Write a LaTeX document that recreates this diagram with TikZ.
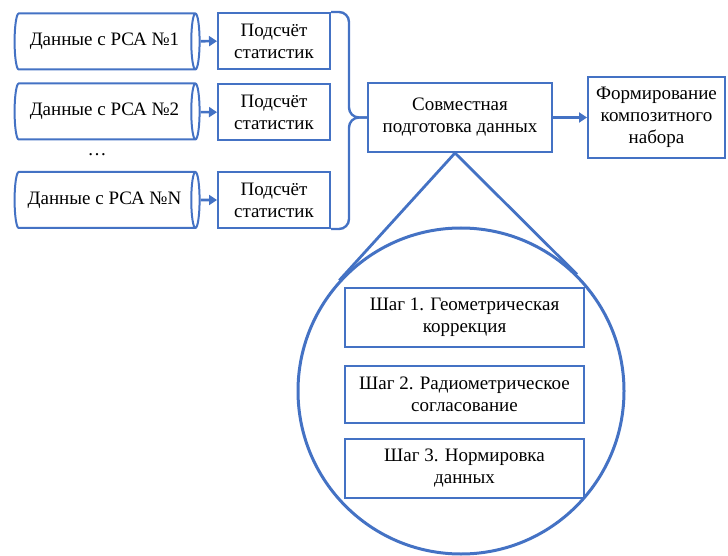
\documentclass[tikz,border=0pt]{standalone}
\usepackage{fontspec}
\setmainfont{Liberation Serif}
\newfontfamily\rusfont{Liberation Serif}
\usetikzlibrary{shapes.geometric,arrows.meta,calc,positioning}

\definecolor{lineblue}{RGB}{68,114,196}

\tikzset{
  txt/.style={font=\rusfont\fontsize{19}{22}\selectfont, align=center, text=black},
  datacyl/.style={cylinder, draw=lineblue, line width=2pt, fill=white, txt,
    minimum height=185pt, minimum width=56pt, aspect=0.5, inner sep=0pt},
  box/.style={rectangle, draw=lineblue, line width=2pt, fill=white, txt, inner sep=2pt},
  arr/.style={-{Triangle[length=8pt,width=10pt]}, draw=lineblue, line width=2.6pt},
  brace/.style={draw=lineblue, line width=2.4pt, rounded corners=10pt},
  zoomline/.style={draw=lineblue, line width=2.8pt}
}

\begin{document}
\begin{tikzpicture}[x=1pt,y=-1pt]
\useasboundingbox (0,0) rectangle (728,556);

% Input data and statistics
\node[datacyl] (d1) at (104.5,41.5) {Данные с РСА №1};
\node[datacyl] (d2) at (104.5,111.5) {Данные с РСА №2};
\node[datacyl] (d3) at (104.5,200) {Данные с РСА №N};
\node[txt] (dots) at (97,155) {\dots};

\node[box, minimum width=112pt, minimum height=56pt] (p1) at (274,41) {Подсчёт\\статистик};
\node[box, minimum width=112pt, minimum height=56pt] (p2) at (274,112.5) {Подсчёт\\статистик};
\node[box, minimum width=112pt, minimum height=56pt] (p3) at (274,200) {Подсчёт\\статистик};

\draw[arr] (d1) -- (p1);
\draw[arr] (d2) -- (p2);
\draw[arr] (d3) -- (p3);

% Joint preparation and composite
\node[box, minimum width=184pt, minimum height=69pt] (sov) at (460,117.5) {Совместная\\подготовка данных};
\node[box, minimum width=137pt, minimum height=81pt] (form) at (656.5,117.5) {Формирование\\композитного\\набора};

\draw[brace] (p1.north east) -| ([xshift=-18pt]sov.west) -- (sov.west);
\draw[brace] (p3.south east) -| ([xshift=-18pt]sov.west) -- (sov.west);
\draw[arr] (sov) -- (form);

% Magnifier with steps
\node[circle, draw=lineblue, line width=3pt, inner sep=0pt, minimum size=326pt] (lupa) at (461,391) {};
\coordinate (apex) at ([xshift=-5pt]sov.south);
\draw[zoomline] (tangent cs:node=lupa,point={(apex)},solution=1) -- (apex)
  -- (tangent cs:node=lupa,point={(apex)},solution=2);

\node[box, minimum width=239pt, minimum height=59pt] (s1) at (464.5,317.5) {Шаг 1. Геометрическая\\коррекция};
\node[box, minimum width=239pt, minimum height=57pt] (s2) at (464.5,394.5) {Шаг 2. Радиометрическое\\согласование};
\node[box, minimum width=239pt, minimum height=59pt] (s3) at (464.5,468.5) {Шаг 3. Нормировка\\данных};
\end{tikzpicture}
\end{document}
